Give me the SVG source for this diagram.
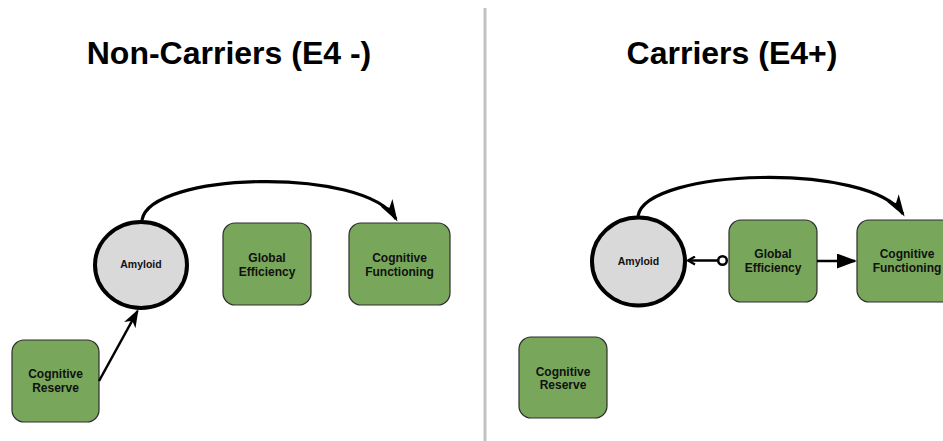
<svg xmlns="http://www.w3.org/2000/svg" width="943" height="441" viewBox="0 0 943 441">
  <style>
    .title { font-family: "Liberation Sans", Arial, sans-serif; font-weight: bold; font-size: 32px; fill: #000; text-anchor: middle; }
    .box { fill: #78a65a; stroke: #2e2e2e; stroke-width: 1.2; }
    .lat { fill: #d9d9d9; stroke: #000; stroke-width: 4; }
    .lbl { font-family: "Liberation Sans", Arial, sans-serif; font-weight: bold; font-size: 12px; fill: #111; text-anchor: middle; }
    .lbl-s { font-family: "Liberation Sans", Arial, sans-serif; font-weight: bold; font-size: 10.5px; fill: #111; text-anchor: middle; }
    .edge { fill: none; stroke: #000; stroke-width: 3.2; }
    .edge-thin { fill: none; stroke: #000; stroke-width: 2.5; }
  </style>
  <defs>
    <marker id="head" viewBox="0 0 22 14" refX="19" refY="7" markerWidth="22" markerHeight="14" markerUnits="userSpaceOnUse" orient="auto">
      <path d="M0,0 L22,7 L0,14 L6,7 Z" fill="#000"/>
    </marker>
    <marker id="head-s" viewBox="0 0 18 13" refX="16" refY="6.5" markerWidth="18" markerHeight="13" markerUnits="userSpaceOnUse" orient="auto">
      <path d="M0,0 L18,6.5 L0,13 L5,6.5 Z" fill="#000"/>
    </marker>
    <marker id="tri" viewBox="0 0 20 15" refX="18" refY="7.5" markerWidth="20" markerHeight="15" markerUnits="userSpaceOnUse" orient="auto">
      <path d="M0,0 L20,7.5 L0,15 Z" fill="#000"/>
    </marker>
    <marker id="open" viewBox="0 0 10 10" refX="8.5" refY="5" markerWidth="10" markerHeight="10" markerUnits="userSpaceOnUse" orient="auto">
      <path d="M1.5,1 L8.5,5 L1.5,9" fill="none" stroke="#000" stroke-width="2.2"/>
    </marker>
  </defs>

  <rect width="943" height="441" fill="#fff"/>

  <!-- panel divider -->
  <line x1="485" y1="8" x2="485" y2="441" stroke="#c2c2c2" stroke-width="3"/>

  <text class="title" x="229" y="64">Non-Carriers (E4 -)</text>
  <text class="title" x="732" y="64">Carriers (E4+)</text>

  <!-- non-carriers -->
  <g id="nc-amyloid">
    <ellipse class="lat" cx="141" cy="265" rx="46" ry="43"/>
    <text class="lbl-s" x="141" y="268">Amyloid</text>
  </g>
  <g id="nc-global-efficiency">
    <rect class="box" x="223" y="223" width="88" height="82" rx="12"/>
    <text class="lbl" x="267" y="262">Global</text>
    <text class="lbl" x="267" y="276">Efficiency</text>
  </g>
  <g id="nc-cognitive-functioning">
    <rect class="box" x="349" y="223" width="101" height="82" rx="12"/>
    <text class="lbl" x="399.5" y="262">Cognitive</text>
    <text class="lbl" x="399.5" y="276">Functioning</text>
  </g>
  <g id="nc-cognitive-reserve">
    <rect class="box" x="12" y="340" width="87" height="82" rx="12"/>
    <text class="lbl" x="55.5" y="378">Cognitive</text>
    <text class="lbl" x="55.5" y="392">Reserve</text>
  </g>

  <!-- carriers -->
  <g id="c-amyloid">
    <ellipse class="lat" cx="638.5" cy="261.5" rx="46.5" ry="44"/>
    <text class="lbl-s" x="638.5" y="265">Amyloid</text>
  </g>
  <g id="c-global-efficiency">
    <rect class="box" x="729" y="220" width="88" height="82" rx="12"/>
    <text class="lbl" x="773" y="258">Global</text>
    <text class="lbl" x="773" y="272">Efficiency</text>
  </g>
  <g id="c-cognitive-functioning">
    <rect class="box" x="857" y="220" width="100" height="82" rx="12"/>
    <text class="lbl" x="907" y="258">Cognitive</text>
    <text class="lbl" x="907" y="272">Functioning</text>
  </g>
  <g id="c-cognitive-reserve">
    <rect class="box" x="519" y="337" width="88" height="81" rx="12"/>
    <text class="lbl" x="563" y="375.5">Cognitive</text>
    <text class="lbl" x="563" y="389">Reserve</text>
  </g>

  <!-- connectors -->
  <g id="connectors">
    <path class="edge" d="M142,220 C150,172 365,166 396,219" marker-end="url(#head)"/>
    <line class="edge-thin" x1="99" y1="381" x2="137.5" y2="311" marker-end="url(#head-s)"/>
    <path class="edge" d="M638,216 C646,168 870,162 903,214" marker-end="url(#head)"/>
    <line class="edge-thin" x1="817" y1="261" x2="855" y2="261" marker-end="url(#tri)"/>
    <line class="edge-thin" x1="718" y1="260.5" x2="688" y2="260.5" marker-end="url(#open)"/>
    <circle cx="722.5" cy="260.5" r="4.3" fill="#fff" stroke="#000" stroke-width="2.5"/>
  </g>
</svg>
